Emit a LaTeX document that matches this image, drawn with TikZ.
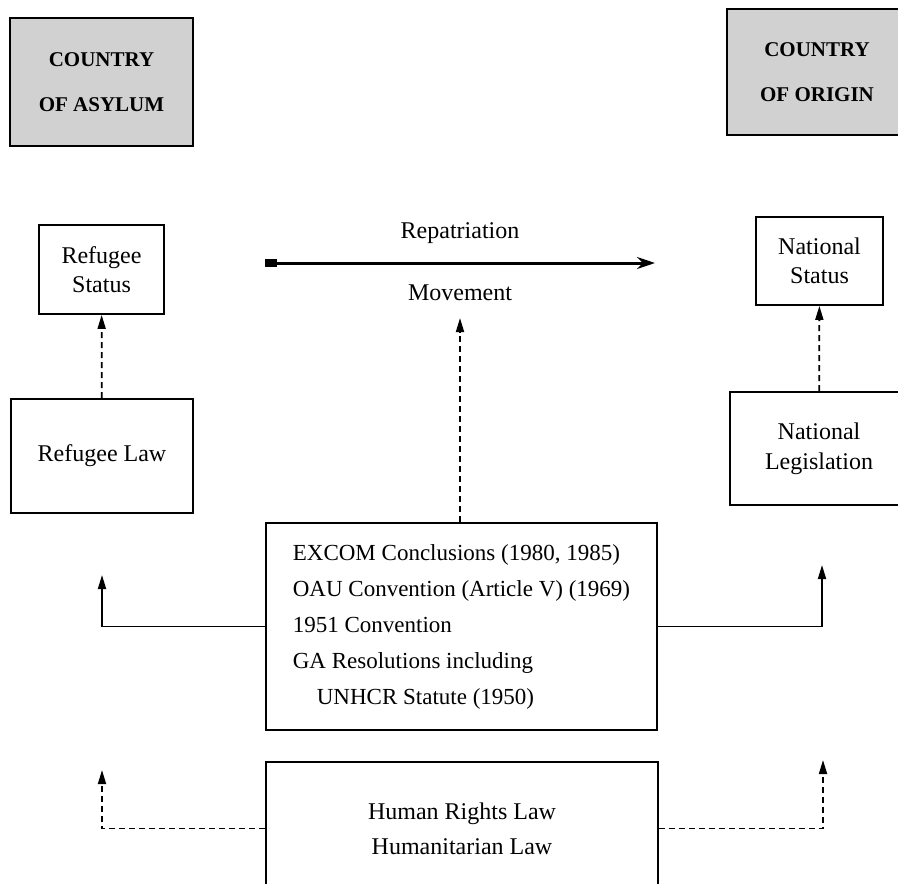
\documentclass[tikz,border=0pt]{standalone}
\usepackage{fontspec}
\setmainfont{Liberation Serif}
\usepackage{tikz}
\usetikzlibrary{arrows.meta}

\tikzset{
  box/.style={draw, line width=0.9pt, align=center, font=\fontsize{12}{14.5}\selectfont},
  shadebox/.style={draw, line width=1.3pt, fill=black!18, align=center, font=\bfseries\fontsize{10.5}{22.5}\selectfont},
  link/.style={line width=0.9pt, -{Triangle[length=7pt,width=4pt]}},
  dlink/.style={link, densely dashed},
}

\begin{document}
\begin{tikzpicture}[x=0.5pt,y=-0.5pt]
            \useasboundingbox (0,0) rectangle (898,883);

            % Country headings
            \node[shadebox, minimum width=91.5pt, minimum height=64pt] (asylum) at (101.5,82) {COUNTRY\\OF ASYLUM};
            \node[shadebox, minimum width=90pt, minimum height=63pt] (origin) at (817,72) {COUNTRY\\OF ORIGIN};

            % Status boxes
            \node[box, minimum width=62.5pt, minimum height=44.5pt] (refstatus) at (101.5,269.5) {Refugee\\Status};
            \node[box, minimum width=63.5pt, minimum height=44pt] (natstatus) at (819.5,261) {National\\Status};

            % Law boxes
            \node[box, minimum width=91pt, minimum height=57pt] (reflaw) at (102,456) {Refugee Law};
            \node[box, minimum width=89pt, minimum height=56.5pt, font=\fontsize{12}{15}\selectfont] (natleg) at (819,448.5) {National\\Legislation};

            % Instruments
            \node[box, align=left, minimum width=195.5pt, minimum height=103.5pt,
                  font=\fontsize{11.5}{18}\selectfont] (instr) at (461.5,626.5)
                  {EXCOM Conclusions (1980, 1985)\\OAU Convention (Article V) (1969)\\1951 Convention\\GA Resolutions including\\\hspace*{12pt}UNHCR Statute (1950)};
            \node[box, minimum width=196pt, minimum height=66.5pt, font=\fontsize{12}{17.5}\selectfont] (hrl) at (462,828.5) {Human Rights Law\\Humanitarian Law};

            % Repatriation movement
            \coordinate (repA) at (265,263);
            \coordinate (repB) at (655,263);
            \draw[line width=1.5pt, {Rectangle[length=6pt,width=4pt]}-{Stealth[length=9pt,width=6pt]}] (repA) -- (repB);
            \node[font=\fontsize{12}{14}\selectfont] (rep) at (460,233) {Repatriation};
            \node[font=\fontsize{12}{14}\selectfont] (mov) at (460,293) {Movement};

            % Arrows up
            \draw[dlink] (reflaw) -- (refstatus);
            \draw[dlink] (natleg) -- (natstatus);
            \draw[dlink, shorten >=5pt] (instr.north -| mov) -- (mov.south);

            % Side connectors
            \coordinate (instrL) at (102,575);
            \coordinate (instrR) at (822,565);
            \coordinate (hrlL) at (102,770);
            \coordinate (hrlR) at (823,760);
            \draw[link] (instr.west) -| (instrL);
            \draw[link] (instr.east) -| (instrR);
            \draw[dlink] (hrl.west) -| (hrlL);
            \draw[dlink] (hrl.east) -| (hrlR);
        \end{tikzpicture}
\end{document}
